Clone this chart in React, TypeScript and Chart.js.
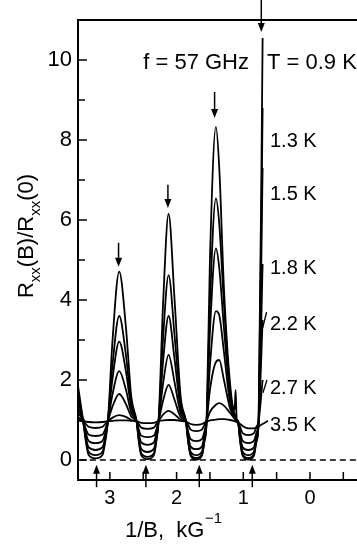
import React, { useEffect, useRef } from "react";
import { Chart, registerables } from "chart.js";
Chart.register(...registerables);

// 1/B positions (kG^-1) shared by all curves
const X = [3.5, 3.4, 3.36, 3.32, 3.215, 3.11, 3.07, 3.03, 2.96, 2.86, 2.76, 2.68, 2.6, 2.565, 2.53, 2.435, 2.34, 2.305, 2.27, 2.2, 2.12, 2.03, 1.94, 1.86, 1.825, 1.79, 1.705, 1.62, 1.585, 1.55, 1.5, 1.41, 1.36, 1.29, 1.2, 1.13, 1.115, 1.1, 1.08, 1.045, 1.01, 0.925, 0.84, 0.805, 0.77, 0.71, 0.63];

// Rxx(B)/Rxx(0) for each temperature
const R09 = [2.1, 0.97, 0.46, 0.13, 0.04, 0.13, 0.46, 0.97, 3.0, 4.71, 3.33, 1.6, 0.97, 0.45, 0.12, 0.02, 0.12, 0.45, 0.97, 4.0, 6.15, 4.0, 1.6, 0.97, 0.44, 0.11, 0.01, 0.11, 0.44, 0.97, 5.0, 8.33, 7.3, 4.3, 1.95, 1.25, 1.75, 1.05, 0.97, 0.44, 0.11, 0.01, 0.11, 0.44, 0.97, 10.55, null];
const R13 = [1.8, 0.97, 0.5, 0.21, 0.12, 0.21, 0.5, 0.97, 2.39, 3.6, 2.63, 1.42, 0.97, 0.48, 0.17, 0.08, 0.17, 0.48, 0.97, 3.11, 4.62, 3.11, 1.41, 0.97, 0.46, 0.14, 0.05, 0.14, 0.46, 0.97, 3.9, 6.54, 5.9, 3.9, 1.75, 1.15, 1.1, 1.0, 0.97, 0.46, 0.14, 0.05, 0.14, 0.46, 0.97, 8.8, null];
const R15 = [1.6, 0.97, 0.57, 0.32, 0.25, 0.32, 0.57, 0.97, 2.04, 2.96, 2.22, 1.31, 0.97, 0.55, 0.28, 0.2, 0.28, 0.55, 0.97, 2.51, 3.6, 2.51, 1.29, 0.97, 0.5, 0.21, 0.12, 0.21, 0.5, 0.97, 3.2, 5.29, 4.8, 3.3, 1.6, 1.1, 1.06, 1.0, 0.97, 0.5, 0.21, 0.12, 0.21, 0.5, 0.97, 7.3, null];
const R18 = [1.4, 0.97, 0.67, 0.48, 0.42, 0.48, 0.67, 0.97, 1.65, 2.22, 1.76, 1.18, 0.97, 0.65, 0.44, 0.38, 0.44, 0.65, 0.97, 1.94, 2.63, 1.94, 1.17, 0.97, 0.59, 0.34, 0.27, 0.34, 0.59, 0.97, 2.35, 3.72, 3.62, 2.7, 1.45, 1.08, 1.04, 1.0, 0.97, 0.57, 0.32, 0.25, 0.32, 0.57, 0.97, 4.9, null];
const R22 = [1.25, 0.97, 0.77, 0.64, 0.6, 0.64, 0.77, 0.97, 1.34, 1.65, 1.4, 1.09, 0.97, 0.75, 0.61, 0.57, 0.61, 0.75, 0.97, 1.5, 1.88, 1.5, 1.08, 0.97, 0.7, 0.52, 0.47, 0.52, 0.7, 0.97, 1.75, 2.45, 2.5, 2.0, 1.3, 1.05, 1.02, 0.99, 0.97, 0.67, 0.48, 0.42, 0.48, 0.67, 0.97, 3.5, null];
const R27 = [1.1, 0.97, 0.9, 0.83, 0.8, 0.83, 0.9, 0.97, 1.06, 1.12, 1.08, 1.0, 0.97, 0.89, 0.81, 0.78, 0.81, 0.89, 0.97, 1.14, 1.23, 1.14, 1.01, 0.97, 0.87, 0.76, 0.72, 0.76, 0.87, 0.97, 1.2, 1.38, 1.42, 1.36, 1.18, 1.03, 1.0, 0.98, 0.97, 0.82, 0.67, 0.62, 0.67, 0.82, 0.97, 2.0, null];
const R35 = [0.98, 0.97, 0.96, 0.95, 0.94, 0.95, 0.96, 0.97, 0.98, 0.99, 0.99, 0.98, 0.97, 0.95, 0.93, 0.92, 0.93, 0.95, 0.97, 0.99, 1.0, 1.0, 0.98, 0.96, 0.93, 0.9, 0.88, 0.9, 0.93, 0.96, 0.99, 1.01, 1.02, 1.02, 1.0, 0.97, 0.96, 0.95, 0.93, 0.9, 0.85, 0.79, 0.79, 0.81, 0.84, 0.9, 0.98];

const SERIES = [R09, R13, R15, R18, R22, R27, R35];

// curve labels: text, x (1/B), baseline y
const LABELS = ["T = 0.9 K", "1.3 K", "1.5 K", "1.8 K", "2.2 K", "2.7 K", "3.5 K"];
const LABEL_X = [0.645, 0.6, 0.6, 0.6, 0.6, 0.6, 0.6];
const LABEL_Y = [9.78, 7.83, 6.5, 4.65, 3.25, 1.65, 0.73];
const FREQ_TEXT = "f = 57 GHz";

// leader slashes for 2.2 K and 2.7 K
const LEADER_X0 = [0.71, 0.705];
const LEADER_Y0 = [3.3, 1.68];
const LEADER_X1 = [0.65, 0.645];
const LEADER_Y1 = [3.7, 2.0];

// arrows
const TOP_ARROW_X = [2.87, 2.13, 1.43, 0.73];
const TOP_ARROW_TIP = [4.83, 6.3, 8.55, 10.7];
const TOP_ARROW_TAIL = [5.43, 6.88, 9.2, 11.55];
const BOTTOM_ARROW_X = [3.2, 2.46, 1.66, 0.865];
const BOTTOM_ARROW_TIP = -0.12;
const BOTTOM_ARROW_TAIL = -0.68;

// ticks
const X_TICKS = [3, 2, 1, 0];
const X_MINOR = [3.5, 3, 2.5, 2, 1.5, 1, 0.5, 0, -0.5];
const Y_TICKS = [0, 2, 4, 6, 8, 10];
const Y_MINOR = [1, 3, 5, 7, 9];

const FONT = "'Liberation Sans', Arial, Helvetica, sans-serif";

export default function App() {
  const ref = useRef<HTMLCanvasElement>(null);

  useEffect(() => {
    const canvas = ref.current!;
    const datasets: any[] = SERIES.map((ys) => ({
      data: X.map((x, i) => ({ x, y: ys[i] })),
      borderColor: "#000",
      borderWidth: 1.8,
      pointRadius: 0,
      fill: false,
      cubicInterpolationMode: "monotone",
      spanGaps: false,
    }));
    datasets.push({
      data: [
        { x: 3.6, y: 0 },
        { x: -1, y: 0 },
      ],
      borderColor: "#000",
      borderWidth: 1.5,
      borderDash: [6, 4],
      pointRadius: 0,
      fill: false,
    });

    const overlay = {
      id: "overlay",
      afterDraw(chart: any) {
        const ctx = chart.ctx as CanvasRenderingContext2D;
        const xs = chart.scales.x;
        const ys = chart.scales.y;
        const a = chart.chartArea;
        const px = (v: number) => xs.getPixelForValue(v);
        const py = (v: number) => ys.getPixelForValue(v);
        ctx.save();
        ctx.strokeStyle = "#000";
        ctx.fillStyle = "#000";
        // frame
        ctx.lineWidth = 2;
        ctx.beginPath();
        ctx.moveTo(a.right + 2, a.top);
        ctx.lineTo(a.left, a.top);
        ctx.lineTo(a.left, a.bottom);
        ctx.lineTo(a.right + 2, a.bottom);
        ctx.stroke();
        // ticks
        ctx.lineWidth = 1.5;
        ctx.beginPath();
        Y_TICKS.forEach((v) => {
          ctx.moveTo(a.left, py(v));
          ctx.lineTo(a.left + 9, py(v));
        });
        Y_MINOR.forEach((v) => {
          ctx.moveTo(a.left, py(v));
          ctx.lineTo(a.left + 7, py(v));
        });
        X_MINOR.forEach((v) => {
          const p = px(v);
          if (p > a.left + 2 && p < a.right) {
            ctx.moveTo(p, a.bottom);
            ctx.lineTo(p, a.bottom - 8);
          }
        });
        ctx.stroke();
        // arrows
        const arrow = (x: number, y0: number, y1: number) => {
          const dir = Math.sign(y1 - y0);
          ctx.lineWidth = 1.5;
          ctx.beginPath();
          ctx.moveTo(x, y0);
          ctx.lineTo(x, y1 - dir * 6);
          ctx.stroke();
          ctx.beginPath();
          ctx.moveTo(x, y1);
          ctx.lineTo(x - 3.5, y1 - dir * 9);
          ctx.lineTo(x + 3.5, y1 - dir * 9);
          ctx.closePath();
          ctx.fill();
        };
        TOP_ARROW_X.forEach((v, i) => arrow(px(v), py(TOP_ARROW_TAIL[i]), py(TOP_ARROW_TIP[i])));
        BOTTOM_ARROW_X.forEach((v) => arrow(px(v), py(BOTTOM_ARROW_TAIL), py(BOTTOM_ARROW_TIP)));
        // leaders
        ctx.lineWidth = 1.3;
        ctx.beginPath();
        LEADER_X0.forEach((v, i) => {
          ctx.moveTo(px(v), py(LEADER_Y0[i]));
          ctx.lineTo(px(LEADER_X1[i]), py(LEADER_Y1[i]));
        });
        ctx.stroke();
        // labels
        ctx.textBaseline = "alphabetic";
        ctx.textAlign = "left";
        LABELS.forEach((t, i) => {
          ctx.font = `${i === 0 ? 22 : 20}px ${FONT}`;
          ctx.fillText(t, px(LABEL_X[i]), py(LABEL_Y[i]));
        });
        ctx.font = `22px ${FONT}`;
        ctx.fillText(FREQ_TEXT, px(2.5), py(9.78));

        // x title
        ctx.font = `22px ${FONT}`;
        const xt = "1/B,  kG";
        ctx.fillText(xt, 125, 537);
        const w = ctx.measureText(xt).width;
        ctx.font = `15px ${FONT}`;
        ctx.fillText("\u22121", 125 + w + 0.5, 523);

        // y title (rotated)
        ctx.translate(33, 236);
        ctx.rotate(-Math.PI / 2);
        const parts: [string, boolean][] = [
          ["R", false],
          ["xx", true],
          ["(B)/R", false],
          ["xx", true],
          ["(0)", false],
        ];
        let total = 0;
        const widths = parts.map(([t, sub]) => {
          ctx.font = `${sub ? 15 : 22}px ${FONT}`;
          const ww = ctx.measureText(t).width;
          total += ww;
          return ww;
        });
        let cx = -total / 2;
        parts.forEach(([t, sub], i) => {
          ctx.font = `${sub ? 15 : 22}px ${FONT}`;
          ctx.fillText(t, cx, sub ? 7 : 0);
          cx += widths[i];
        });
        ctx.restore();
      },
    };

    const chart = new Chart(canvas, {
      type: "line",
      data: { datasets },
      plugins: [overlay],
      options: {
        animation: false,
        responsive: false,
        devicePixelRatio: 1,
        layout: { padding: { top: 20, left: 0, right: 0, bottom: 0 }, autoPadding: false },
        plugins: { legend: { display: false }, tooltip: { enabled: false } },
        scales: {
          x: {
            type: "linear",
            reverse: true,
            min: -0.705,
            max: 3.478,
            grid: { display: false, drawTicks: false },
            border: { display: false },
            afterBuildTicks: (s: any) => {
              s.ticks = X_TICKS.map((v) => ({ value: v }));
            },
            afterFit: (s: any) => {
              s.height = 64;
            },
            ticks: {
              padding: 6,
              color: "#000",
              font: { family: FONT, size: 20 },
              maxRotation: 0,
              autoSkip: false,
            },
          },
          y: {
            type: "linear",
            min: -0.5,
            max: 11,
            grid: { display: false, drawTicks: false },
            border: { display: false },
            afterBuildTicks: (s: any) => {
              s.ticks = Y_TICKS.map((v) => ({ value: v }));
            },
            afterFit: (s: any) => {
              s.width = 78;
            },
            ticks: {
              padding: 6,
              color: "#000",
              font: { family: FONT, size: 22 },
            },
          },
        },
      } as any,
    });
    return () => chart.destroy();
  }, []);

  return (
    <div style={{ position: "absolute", left: 0, top: 0, width: 357, height: 544, background: "#fff" }}>
      <canvas ref={ref} width={357} height={544} style={{ display: "block" }} />
    </div>
  );
}
